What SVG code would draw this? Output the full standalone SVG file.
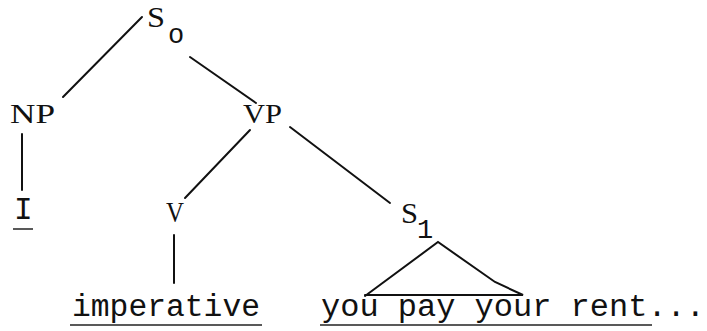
<svg xmlns="http://www.w3.org/2000/svg" width="707" height="331" viewBox="0 0 707 331">
<style>
.lbl{font-family:"Liberation Serif","Times New Roman",serif;font-size:27px;fill:#111}
.big{font-size:29px}
.tw{font-family:"Liberation Mono","Courier New",monospace;font-size:31px;fill:#111}
.sub{font-family:"Liberation Mono","Courier New",monospace;font-size:27px;fill:#111}
.e{stroke:#111;stroke-width:2;fill:none;stroke-linecap:round}
.u{stroke:#222;stroke-width:1.5}
</style>
<rect width="707" height="331" fill="#fff"/>
<g id="connectors">
<line class="e" x1="142" y1="17" x2="63" y2="97"/>
<line class="e" x1="190" y1="57" x2="256" y2="103"/>
<line class="e" x1="22" y1="134" x2="22" y2="190"/>
<line class="e" x1="250" y1="130" x2="185" y2="198"/>
<line class="e" x1="290" y1="127" x2="390" y2="203"/>
<line class="e" x1="174" y1="235" x2="174" y2="283"/>
<polyline class="e" points="365,296 438,242 495,282 523,295 365,295"/>
</g>
<g id="S0"><text class="lbl big" x="147" y="27" textLength="18" lengthAdjust="spacingAndGlyphs">S</text><text class="sub" x="168" y="43">o</text></g>
<g id="NP"><text class="lbl" x="10" y="123" textLength="45" lengthAdjust="spacingAndGlyphs">NP</text></g>
<g id="VP"><text class="lbl" x="243" y="123" textLength="39" lengthAdjust="spacingAndGlyphs">VP</text></g>
<g id="I"><text class="tw" x="14" y="219">I</text><line class="u" x1="13" y1="229" x2="33" y2="229"/></g>
<g id="V"><text class="lbl big" x="166" y="222" textLength="18" lengthAdjust="spacingAndGlyphs">V</text></g>
<g id="S1"><text class="lbl big" x="401" y="223" textLength="17" lengthAdjust="spacingAndGlyphs">S</text><text class="sub" x="417" y="238">1</text></g>
<g id="imperative"><text class="tw" x="72" y="316" textLength="188" lengthAdjust="spacingAndGlyphs">imperative</text><line class="u" x1="70" y1="325" x2="262" y2="325"/></g>
<g id="sentence"><text class="tw" x="321" y="316" textLength="384" lengthAdjust="spacingAndGlyphs">you pay your rent...</text><line class="u" x1="320" y1="325" x2="652" y2="325"/></g>
</svg>
